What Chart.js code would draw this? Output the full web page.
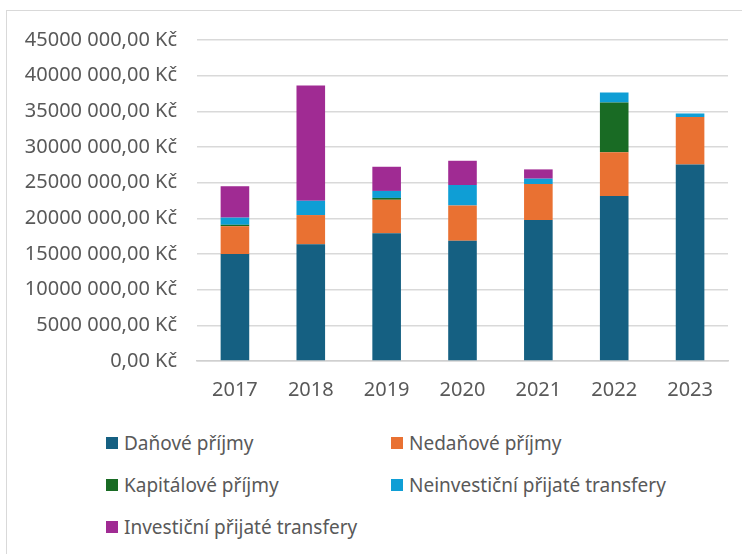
<!DOCTYPE html>
<html><head><meta charset="utf-8">
<script src="https://cdn.jsdelivr.net/npm/chart.js@4/dist/chart.umd.min.js"></script>
<style>
html,body{margin:0;padding:0;background:#fff;}
#wrap{position:relative;width:742px;height:554px;overflow:hidden;font-family:"Noto Sans",sans-serif;}
#frame{position:absolute;left:6px;top:10px;width:800px;height:600px;border:1.5px solid #d9d9d9;box-sizing:border-box;}
#c{position:absolute;left:0;top:0;}
.lg{position:absolute;font-size:19px;color:#595959;white-space:nowrap;height:24px;display:flex;align-items:center;}
.lg span{display:inline-block;width:12px;height:12px;margin-right:6px;}
</style></head>
<body><div id="wrap"><div id="frame"></div><canvas id="c" width="742" height="420"></canvas><div id="legend"></div></div>
<script>
const categories = ['2017','2018','2019','2020','2021','2022','2023'];
const seriesNames = ['Daňové příjmy','Nedaňové příjmy','Kapitálové příjmy','Neinvestiční přijaté transfery','Investiční přijaté transfery'];
const danove      = [15000000,16360000,17900000,16870000,19750000,23140000,27560000];
const nedanove    = [3900000,4100000,4700000,4930000,5050000,6130000,6640000];
const kapitalove  = [200000,0,260000,0,0,6970000,0];
const neinvesticni= [1000000,2000000,980000,2870000,760000,1400000,500000];
const investicni  = [4400000,16150000,3390000,3400000,1300000,0,0];
const colors = ['#156082','#E97132','#196B24','#0F9ED5','#A02B93'];
const yTickLabels = ['0,00 Kč','5000 000,00 Kč','10000 000,00 Kč','15000 000,00 Kč','20000 000,00 Kč','25000 000,00 Kč','30000 000,00 Kč','35000 000,00 Kč','40000 000,00 Kč','45000 000,00 Kč'];

const values = [danove,nedanove,kapitalove,neinvesticni,investicni];
const datasets = values.map((v,i)=>({label:seriesNames[i],data:v,backgroundColor:colors[i],borderWidth:0,barPercentage:1,categoryPercentage:0.377}));
const txt = '#595959';
new Chart(document.getElementById('c'),{
  type:'bar',
  data:{labels:categories,datasets},
  options:{
    responsive:false,animation:false,
    layout:{padding:{left:0,right:14,top:40,bottom:0}},
    plugins:{legend:{display:false},tooltip:{enabled:false}},
    scales:{
      x:{stacked:true,
         grid:{display:false,drawTicks:false},
         border:{display:true,color:'#d0d0d0',width:1.5},
         ticks:{color:txt,font:{family:'"Noto Sans"',size:20},padding:17},
         afterFit:s=>{s.height=59;}},
      y:{stacked:true,min:0,max:45000000,
         grid:{color:'#d9d9d9',lineWidth:1.5,drawTicks:false},
         border:{display:false},
         ticks:{stepSize:5000000,color:txt,font:{family:'"Noto Sans"',size:20},padding:20,
           callback:(v)=>yTickLabels[Math.round(v/5000000)]},
         afterFit:s=>{s.width=197;}}
    }
  }
});
const legendPos = [[106,443],[391,443],[106,485],[391,485],[106,527]];
const lg = document.getElementById('legend');
seriesNames.forEach((n,i)=>{
  const d=document.createElement('div');d.className='lg';
  d.style.left=legendPos[i][0]+'px';d.style.top=(legendPos[i][1]-12)+'px';
  d.innerHTML='<span style="background:'+colors[i]+'"></span>'+n;
  lg.appendChild(d);
});
</script></body></html>
